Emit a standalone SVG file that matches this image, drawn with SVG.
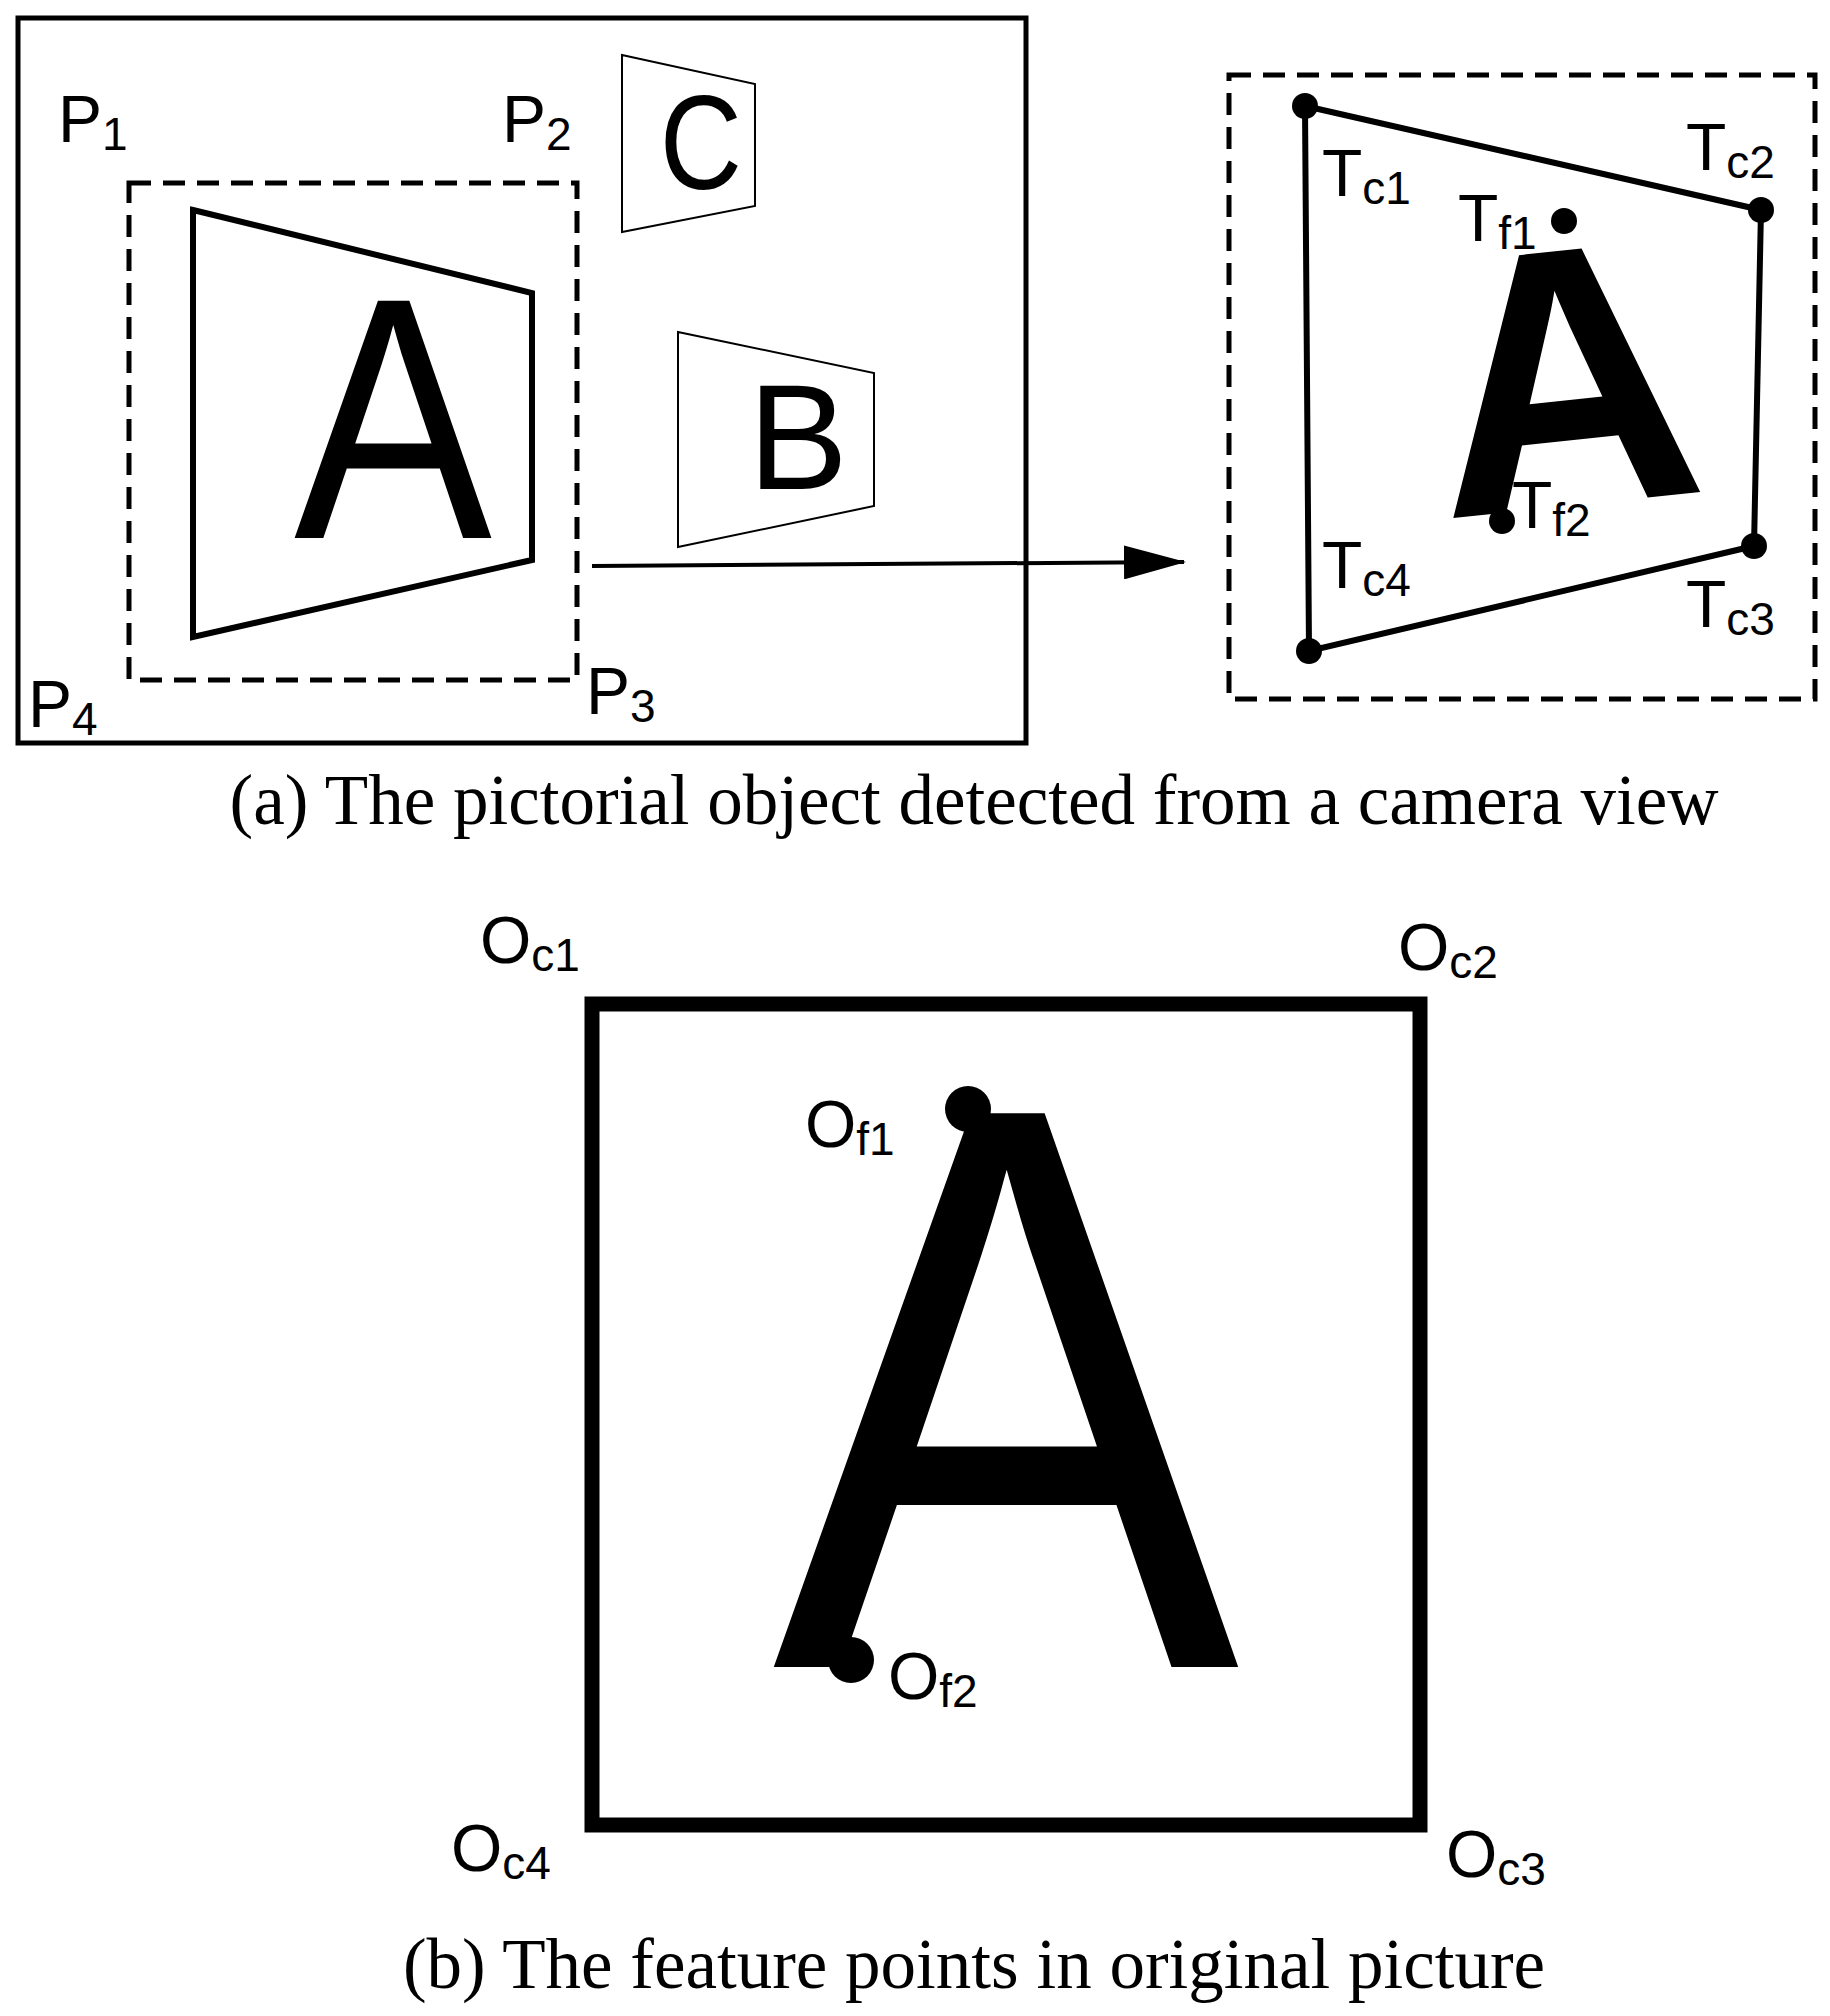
<svg xmlns="http://www.w3.org/2000/svg" width="1830" height="2016" viewBox="0 0 1830 2016">
<style>
.l{font-family:"Liberation Sans",Arial,sans-serif;font-size:66px;fill:#000}
.s{font-size:46px}
.cap{font-family:"Liberation Serif","Times New Roman",serif;font-size:71px;text-anchor:middle}
.big{font-family:"Liberation Sans",Arial,sans-serif;text-anchor:middle;fill:#000}
.d{fill:none;stroke:#000;stroke-width:5;stroke-dasharray:22,12}
</style>
<defs><marker id="ah" markerWidth="62" markerHeight="34" refX="60" refY="17" orient="auto" markerUnits="userSpaceOnUse" viewBox="0 0 62 34"><path d="M0,0L62,17L0,34z"/></marker></defs>
<rect width="1830" height="2016" fill="#fff"/>
<g id="camera">
<rect x="18" y="18" width="1008" height="725" fill="none" stroke="#000" stroke-width="5"/>
<rect x="129" y="183" width="448" height="497" class="d"/>
<polygon points="193,210 532,293 532,560 193,637" fill="none" stroke="#000" stroke-width="6"/>
<text class="big" font-size="345" transform="translate(393,538) scale(0.86,1)">A</text>
<polygon points="622,55 755,84 755,206 622,232" fill="none" stroke="#000" stroke-width="2"/>
<text class="big" font-size="134" transform="translate(701,189) scale(0.85,1)">C</text>
<polygon points="678,332 874,373 874,506 678,547" fill="none" stroke="#000" stroke-width="2"/>
<text class="big" x="798" y="489" font-size="150">B</text>
<text class="l" x="58" y="142">P<tspan class="s" dy="8">1</tspan></text>
<text class="l" x="502" y="142">P<tspan class="s" dy="8">2</tspan></text>
<text class="l" x="586" y="714">P<tspan class="s" dy="8">3</tspan></text>
<text class="l" x="28" y="727">P<tspan class="s" dy="8">4</tspan></text>
</g>
<g id="connectors">
<line x1="592" y1="566" x2="1184" y2="562" stroke="#000" stroke-width="4" marker-end="url(#ah)"/>
</g>
<g id="detected">
<rect x="1229" y="75" width="586" height="624" class="d"/>
<polygon points="1305,106 1761,210 1754,546 1309,651" fill="none" stroke="#000" stroke-width="6"/>
<text class="big" font-size="370" font-weight="bold" transform="translate(1577,505) rotate(-6)">A</text>
<g fill="#000"><circle cx="1305" cy="106" r="13"/><circle cx="1761" cy="210" r="13"/><circle cx="1754" cy="546" r="13"/><circle cx="1309" cy="651" r="13"/><circle cx="1564" cy="221" r="13"/><circle cx="1502" cy="521" r="13"/></g>
<text class="l" x="1322" y="196">T<tspan class="s" dy="8">c1</tspan></text>
<text class="l" x="1686" y="170">T<tspan class="s" dy="8">c2</tspan></text>
<text class="l" x="1458" y="241">T<tspan class="s" dy="8">f1</tspan></text>
<text class="l" x="1512" y="528">T<tspan class="s" dy="8">f2</tspan></text>
<text class="l" x="1322" y="588">T<tspan class="s" dy="8">c4</tspan></text>
<text class="l" x="1686" y="627">T<tspan class="s" dy="8">c3</tspan></text>
</g>
<text class="cap" x="974" y="824">(a) The pictorial object detected from a camera view</text>
<g id="original">
<rect x="592" y="1004" width="828" height="821" fill="none" stroke="#000" stroke-width="15"/>
<text class="big" font-size="805" transform="translate(1006,1667) scale(0.87,1)">A</text>
<circle cx="968" cy="1109" r="23"/>
<circle cx="851" cy="1660" r="23"/>
<text class="l" x="480" y="963">O<tspan class="s" dy="8">c1</tspan></text>
<text class="l" x="1398" y="970">O<tspan class="s" dy="8">c2</tspan></text>
<text class="l" x="805" y="1147">O<tspan class="s" dy="8">f1</tspan></text>
<text class="l" x="888" y="1699">O<tspan class="s" dy="8">f2</tspan></text>
<text class="l" x="451" y="1871">O<tspan class="s" dy="8">c4</tspan></text>
<text class="l" x="1446" y="1877">O<tspan class="s" dy="8">c3</tspan></text>
</g>
<text class="cap" x="974" y="1988">(b) The feature points in original picture</text>
</svg>
